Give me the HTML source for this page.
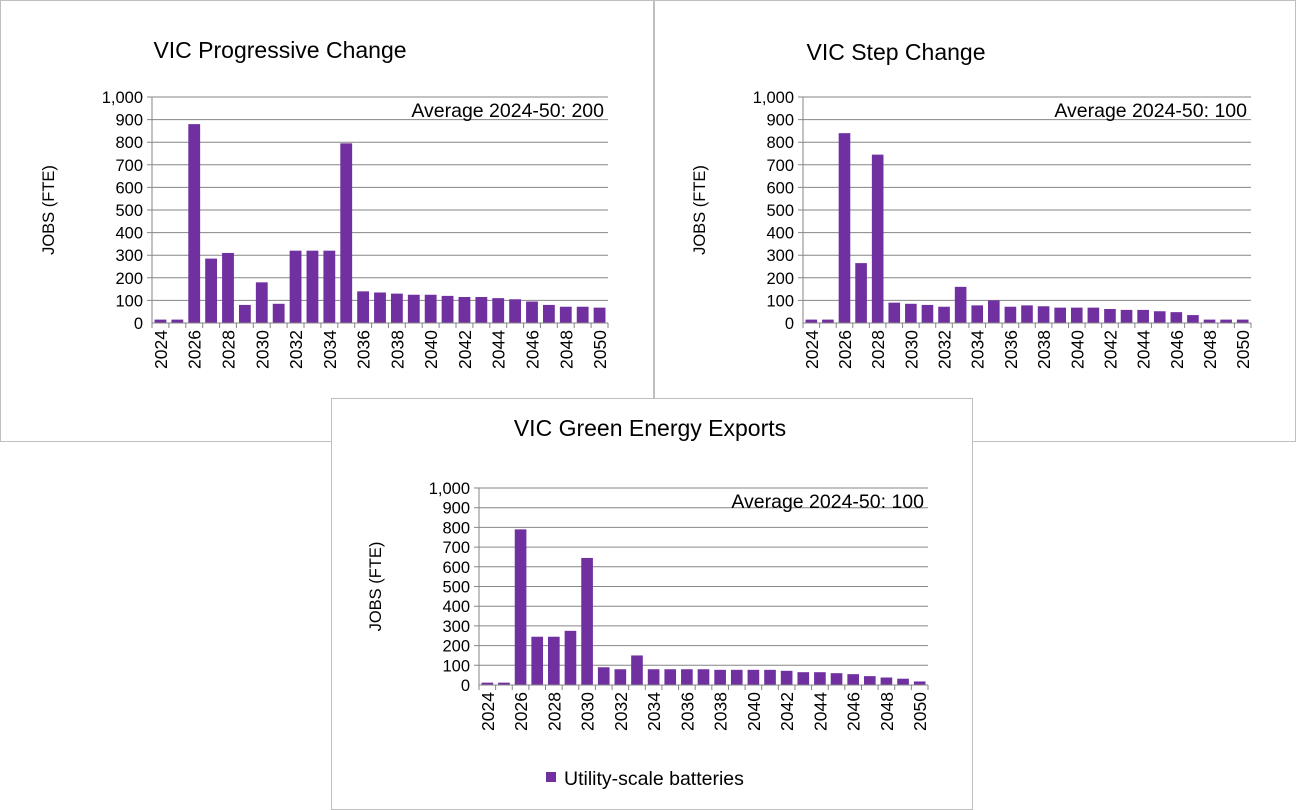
<!DOCTYPE html>
<html><head><meta charset="utf-8"><style>
html,body{margin:0;padding:0;background:#fff;width:1296px;height:810px;overflow:hidden}
svg text{font-family:"Liberation Sans",sans-serif;fill:#000}
</style></head><body>
<svg id="s" width="1296" height="810" xmlns="http://www.w3.org/2000/svg"></svg>
<script>
const years = [];
for (let y = 2024; y <= 2050; y++) years.push(y);
const yTicks = [0,100,200,300,400,500,600,700,800,900,1000];
const yTickLabels = ["0","100","200","300","400","500","600","700","800","900","1,000"];
const progressiveValues = [15,15,880,285,310,80,180,85,320,320,320,795,140,135,130,125,125,120,115,115,110,105,95,80,72,72,68];
const stepValues = [15,15,840,265,745,90,85,80,72,160,78,100,72,78,74,68,68,68,62,58,58,52,48,35,15,15,15];
const exportsValues = [12,12,790,245,245,275,645,90,80,150,80,80,80,80,77,77,77,77,72,65,65,60,55,45,38,32,18];
const titles = ["VIC Progressive Change","VIC Step Change","VIC Green Energy Exports"];
const averages = ["Average  2024-50: 200","Average  2024-50: 100","Average  2024-50: 100"];

const NS="http://www.w3.org/2000/svg";
const svg=document.getElementById('s');
function mk(tag,attrs,parent){const e=document.createElementNS(NS,tag);for(const k in attrs)e.setAttribute(k,attrs[k]);(parent||svg).appendChild(e);return e;}

function panel(box,plot,title,titleXY,avg,values,key){
  const g=mk('g',{});
  
  
  const r=mk('rect',{x:box[0]+0.5,y:box[1]+0.5,width:box[2],height:box[3],fill:'#fff',stroke:'#bfbfbf','stroke-width':1},g);
  
  
  const [x0,x1,yb,yt]=plot;
  const ys=v=>yb-(v/1000)*(yb-yt);
  const bw=(x1-x0)/years.length;
  const xs=i=>x0+i*bw;
  const t=mk('text',{x:titleXY[0],y:titleXY[1],'font-size':23,'text-anchor':'middle'},g);
  t.textContent=title;
  
  
  yTicks.forEach((v,i)=>{
    if(v>0){const l=mk('line',{x1:x0-5,x2:x1,y1:ys(v),y2:ys(v),stroke:'#868686','stroke-width':1},g);
      
      }
    const tl=mk('text',{x:x0-9,y:ys(v)+6,'font-size':16.5,'text-anchor':'end'},g);
    tl.textContent=yTickLabels[i];
    
    
  });
  const yt2=mk('text',{transform:`translate(${x0-98},${(yb+yt)/2}) rotate(-90)`,'font-size':16.5,'text-anchor':'middle'},g);
  yt2.textContent='JOBS (FTE)';
  
  
  values.forEach((v,i)=>{
    const b=mk('rect',{x:xs(i)+bw*0.15,y:ys(v),width:bw*0.7,height:yb-ys(v),fill:'#7030a0'},g);
    
    
  });
  const ax=mk('line',{x1:x0,x2:x1,y1:yb,y2:yb,stroke:'#868686'},g);
  
  
  const ay=mk('line',{x1:x0,x2:x0,y1:yt,y2:yb,stroke:'#868686'},g);
  
  
  for(let i=0;i<=years.length;i++){mk('line',{x1:xs(i),x2:xs(i),y1:yb,y2:yb+5,stroke:'#868686'},g);}
  years.forEach((y,i)=>{
    if(i%2)return;
    const cx=xs(i)+bw/2+6.5;
    const xl=mk('text',{transform:`translate(${cx},${yb+7}) rotate(-90)`,'font-size':17.5,'text-anchor':'end'},g);
    xl.textContent=y;
    
    
  });
  const a=mk('text',{x:x1-4,y:yt+20,'font-size':19.5,'text-anchor':'end'},g);
  a.textContent=avg;
  
  
  return g;
}
panel([0,0,653,441],[152,608,323,97],titles[0],[280,58],averages[0],progressiveValues,'progressive');
panel([654,0,641,441],[803,1251,323,97],titles[1],[896,60],averages[1],stepValues,'step');
const g3=panel([331,398,641,411],[479,928,685,488],titles[2],[650,436],averages[2],exportsValues,'exports');
const lg=mk('rect',{x:546,y:772,width:10,height:10,fill:'#7030a0'},g3);


const lt=mk('text',{x:564,y:785,'font-size':19.5},g3);
lt.textContent='Utility-scale batteries';


</script>
</body></html>
